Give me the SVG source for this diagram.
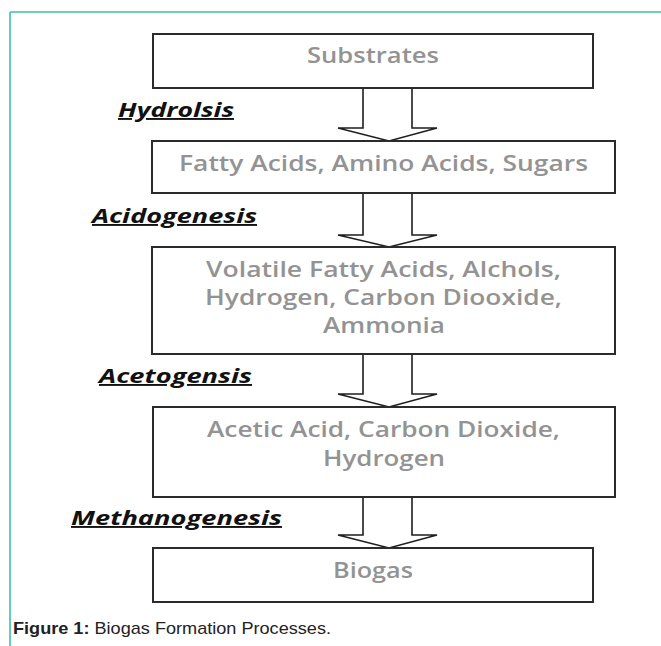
<svg xmlns="http://www.w3.org/2000/svg" width="661" height="646" viewBox="0 0 661 646">
<style>
.box{fill:#fff;stroke:#2b2b2b;stroke-width:2}
.arr{fill:#fff;stroke:#1e1e1e;stroke-width:1.6;stroke-linejoin:miter}
.t{font-family:"Open Sans","Liberation Sans",sans-serif;font-size:21px;fill:#939393;text-anchor:middle;font-weight:600}
.lab{font-family:"Open Sans","Liberation Sans",sans-serif;font-size:19px;font-weight:bold;font-style:italic;fill:#111;text-decoration:underline}
.cap{font-family:"Liberation Sans",Arial,sans-serif;font-size:17px;fill:#222}
</style>
<rect x="0" y="0" width="661" height="646" fill="#fff"/>
<path d="M10,12 H661 M10,12 V646" fill="none" stroke="#40c0a8" stroke-width="1.6"/>
<g id="connectors">
<polygon class="arr" points="363,88 412,88 412,128 437,128 389,141 338,128 363,128"/>
<polygon class="arr" points="363,193 412,193 412,235 437,235 389,247 338,235 363,235"/>
<polygon class="arr" points="363,354 412,354 412,394 437,394 389,407 338,394 363,394"/>
<polygon class="arr" points="363,497 412,497 412,535 437,535 389,548 338,535 363,535"/>
</g>
<g id="substrates">
<rect class="box" x="153" y="34" width="440" height="54"/>
<text class="t" x="373" y="63" textLength="132" lengthAdjust="spacingAndGlyphs">Substrates</text>
</g>
<g id="fatty">
<rect class="box" x="152" y="141" width="463" height="52"/>
<text class="t" x="383.5" y="171" textLength="409" lengthAdjust="spacingAndGlyphs">Fatty Acids, Amino Acids, Sugars</text>
</g>
<g id="volatile">
<rect class="box" x="152" y="247" width="463" height="107"/>
<text class="t" x="383.5" y="277" textLength="355" lengthAdjust="spacingAndGlyphs">Volatile Fatty Acids, Alchols,</text>
<text class="t" x="383.5" y="305" textLength="357" lengthAdjust="spacingAndGlyphs">Hydrogen, Carbon Diooxide,</text>
<text class="t" x="384" y="333" textLength="122" lengthAdjust="spacingAndGlyphs">Ammonia</text>
</g>
<g id="acetic">
<rect class="box" x="153" y="407" width="462" height="90"/>
<text class="t" x="383.5" y="437" textLength="353" lengthAdjust="spacingAndGlyphs">Acetic Acid, Carbon Dioxide,</text>
<text class="t" x="384" y="466" textLength="122" lengthAdjust="spacingAndGlyphs">Hydrogen</text>
</g>
<g id="biogas">
<rect class="box" x="153" y="548" width="440" height="54"/>
<text class="t" x="373" y="578" textLength="80" lengthAdjust="spacingAndGlyphs">Biogas</text>
</g>
<g id="labels">
<text class="lab" x="118" y="117" textLength="116" lengthAdjust="spacingAndGlyphs">Hydrolsis</text>
<text class="lab" x="92" y="223" textLength="165" lengthAdjust="spacingAndGlyphs">Acidogenesis</text>
<text class="lab" x="99" y="383" textLength="153" lengthAdjust="spacingAndGlyphs">Acetogensis</text>
<text class="lab" x="71" y="525" textLength="211" lengthAdjust="spacingAndGlyphs">Methanogenesis</text>
</g>
<g id="caption">
<text class="cap" x="13" y="634" textLength="318" lengthAdjust="spacingAndGlyphs"><tspan font-weight="bold">Figure 1:</tspan> Biogas Formation Processes.</text>
</g>
</svg>
